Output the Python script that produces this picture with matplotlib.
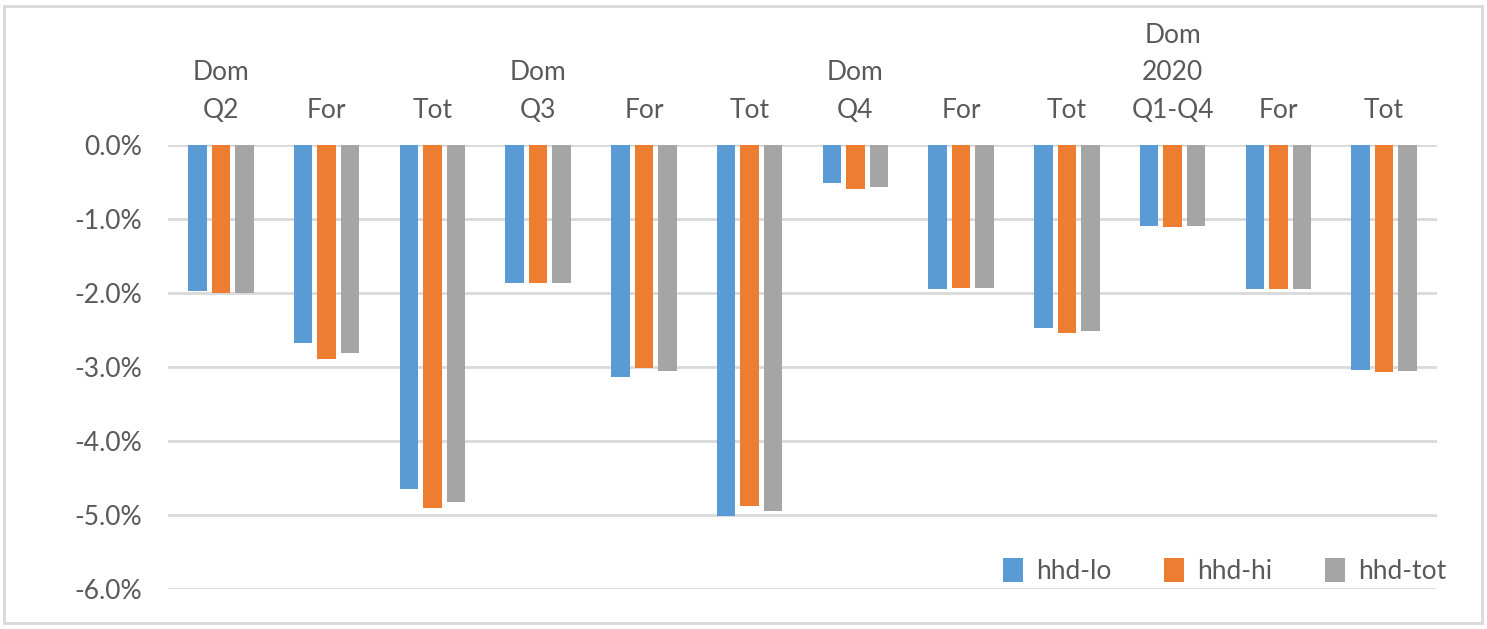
import matplotlib
matplotlib.use("Agg")
import matplotlib.pyplot as plt
from matplotlib.patches import Rectangle
import numpy as np

plt.rcParams['font.family'] = ['Lato', 'DejaVu Sans']

categories = ["Dom\nQ2", "For", "Tot", "Dom\nQ3", "For", "Tot",
              "Dom\nQ4", "For", "Tot", "Dom\n2020\nQ1-Q4", "For", "Tot"]
series_names = ["hhd-lo", "hhd-hi", "hhd-tot"]
hhd_lo = [-1.97, -2.67, -4.65, -1.87, -3.13, -5.02, -0.52, -1.94, -2.47, -1.09, -1.94, -3.04]
hhd_hi = [-2.00, -2.89, -4.91, -1.86, -3.01, -4.88, -0.60, -1.93, -2.54, -1.11, -1.95, -3.07]
hhd_tot = [-2.00, -2.81, -4.82, -1.86, -3.05, -4.94, -0.57, -1.93, -2.52, -1.10, -1.95, -3.05]
colors = ["#5B9BD5", "#ED7D31", "#A5A5A5"]
yticks = [0, -1, -2, -3, -4, -5, -6]

fig = plt.figure(figsize=(14.87, 6.29), dpi=100)
ax = fig.add_axes([0.113, 0.0636, 0.8534, 0.7059])

x = np.arange(len(categories))
w = 0.175
off = 0.222
for i, (vals, name, c) in enumerate(zip([hhd_lo, hhd_hi, hhd_tot], series_names, colors)):
    ax.bar(x + (i - 1) * off, vals, width=w, color=c, label=name, zorder=3)

ax.set_xlim(-0.5, len(categories) - 0.5)
ax.set_ylim(-6, 0)
ax.set_yticks(yticks)
ax.set_yticklabels([f"{v:.1f}%" for v in yticks])
ax.tick_params(axis='y', length=0, pad=19, labelsize=19, labelcolor="#595959")
ax.set_xticks([])
for s in ax.spines.values():
    s.set_visible(False)
ax.yaxis.grid(True, color="#D9D9D9", linewidth=2, zorder=0)
ax.set_axisbelow(True)

for xi, lab in zip(x, categories):
    ax.annotate(lab, xy=(xi, 0), xycoords='data', xytext=(0, 16),
                textcoords='offset points', ha='center', va='bottom',
                fontsize=19, color="#595959", linespacing=1.62,
                annotation_clip=False)

leg = ax.legend(loc='center right', bbox_to_anchor=(1.026, 0.04), ncol=3,
                frameon=False, fontsize=19, handlelength=0.75, handleheight=1.0,
                columnspacing=2.0, handletextpad=0.5)
for t in leg.get_texts():
    t.set_color("#595959")

fig.patches.append(Rectangle((4 / 1487, 6 / 629), 1478 / 1487, 617 / 629,
                             transform=fig.transFigure, fill=False,
                             edgecolor="#D9D9D9", linewidth=2))

fig.savefig("out.png", dpi=100, facecolor="white")
